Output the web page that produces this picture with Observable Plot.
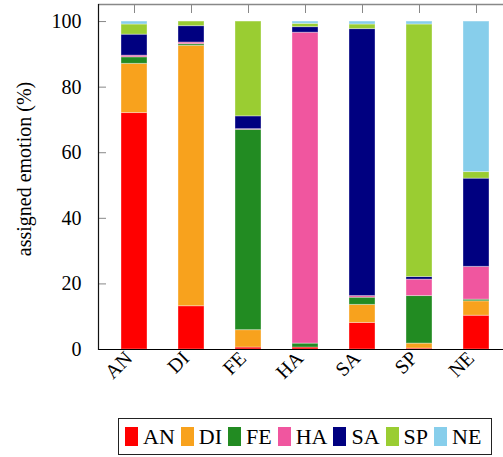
<!DOCTYPE html>
<html>
<head>
<meta charset="utf-8">
<script src="https://cdn.jsdelivr.net/npm/d3@7"></script>
<script src="https://cdn.jsdelivr.net/npm/@observablehq/plot@0.6"></script>
<style>
  html, body { margin: 0; padding: 0; background: #fff; overflow: hidden; }
  #wrap { position: relative; width: 503px; height: 457px; }
  #legend {
    position: absolute; left: 118px; top: 418px; width: 372px; height: 35px;
    border: 1px solid #222; display: flex; align-items: center;
    font-family: "Liberation Serif", serif; font-size: 22px; color: #000;
    box-sizing: content-box;
  }
  .item { display: flex; align-items: center; margin-left: 6px; }
  .sw { width: 13px; height: 19px; margin-right: 5px; }
  svg text { font-family: "Liberation Serif", serif; }
</style>
</head>
<body>
<div id="wrap">
  <div id="chart"></div>
  <div id="legend"></div>
</div>
<script>
const categories = ["AN", "DI", "FE", "HA", "SA", "SP", "NE"];
const emotions = ["AN", "DI", "FE", "HA", "SA", "SP", "NE"];
const colors = ["#ff0000", "#f8a21d", "#228b22", "#f0569f", "#000080", "#9acd32", "#87ceeb"];
// values[emotion][category index]
const AN = [72.1, 13.2, 0.6, 0.6, 8.1, 0.3, 10.3];
const DI = [15.0, 79.4, 5.3, 0.0, 5.5, 1.5, 4.4];
const FE = [2.0, 0.5, 61.1, 1.2, 2.2, 14.5, 0.5];
const HA = [0.5, 0.5, 0.2, 94.8, 0.5, 5.0, 10.0];
const SA = [6.4, 5.0, 3.9, 1.7, 81.4, 0.8, 26.9];
const SP = [3.1, 1.4, 28.9, 1.0, 1.4, 77.0, 2.0];
const NE = [0.9, 0.0, 0.0, 0.7, 0.9, 0.9, 45.9];
const yTicks = [0, 20, 40, 60, 80, 100];
const yLabel = "assigned emotion (%)";

const series = {AN, DI, FE, HA, SA, SP, NE};
const data = [];
categories.forEach((c, i) => {
  emotions.forEach(e => data.push({cat: c, emotion: e, value: series[e][i]}));
});

const FONT = "Liberation Serif, serif";
const W = 503, H = 400, mL = 98, mR = 0, mT = 4, mB = 51;
const frameW = W - mL - mR, frameH = H - mT - mB;

const chart = Plot.plot({
  width: W, height: H,
  marginLeft: mL, marginRight: mR, marginTop: mT, marginBottom: mB,
  style: {fontFamily: FONT, fontSize: "20px", background: "#fff", color: "#000", overflow: "visible"},
  x: {type: "band", domain: categories, range: [98, 511], paddingInner: 0.548, paddingOuter: 0.365, axis: null},
  y: {domain: [0, 105.2], axis: null},
  color: {domain: emotions, range: colors},
  marks: [
    Plot.barY(data, {x: "cat", y: "value", fill: "emotion", stroke: "white", strokeOpacity: 0.35, strokeWidth: 1}),
    Plot.tickY(yTicks.filter(d => d > 0), {y: d => d, stroke: "#888", strokeWidth: 1, insetRight: frameW - 8}),
    Plot.tickX(categories, {x: d => d, stroke: "#888", strokeWidth: 1, insetBottom: frameH - 9}),
    Plot.ruleY([105.2], {stroke: "#888", strokeWidth: 1.3}),
    Plot.ruleY([0], {stroke: "#000", strokeWidth: 1.2}),
    Plot.frame({anchor: "left", stroke: "#111", strokeWidth: 1.2}),
    Plot.axisY({ticks: yTicks, tickSize: 0, tickPadding: 17, label: null, fontSize: 20, fontFamily: FONT}),
    Plot.text([yLabel], {text: d => d, frameAnchor: "left", rotate: -90, dx: -74, dy: -8, fontSize: 20, fontFamily: FONT, textAnchor: "middle"}),
    Plot.text(categories, {x: d => d, text: d => d, frameAnchor: "bottom", rotate: -45, textAnchor: "end", dx: -1, dy: 10, fontSize: 20, fontFamily: FONT})
  ]
});
document.getElementById("chart").appendChild(chart);

const legend = document.getElementById("legend");
emotions.forEach((e, i) => {
  const it = document.createElement("div");
  it.className = "item";
  const sw = document.createElement("div");
  sw.className = "sw";
  sw.style.background = colors[i];
  const t = document.createElement("span");
  t.textContent = e;
  it.appendChild(sw); it.appendChild(t);
  legend.appendChild(it);
});
</script>
</body>
</html>
